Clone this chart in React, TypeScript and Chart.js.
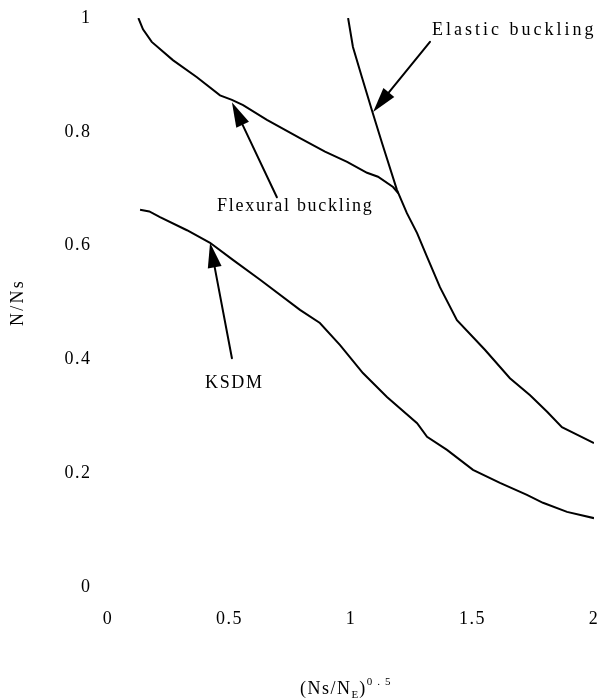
import React, { useEffect, useRef } from "react";
import { Chart, registerables } from "chart.js";

Chart.register(...registerables);

// Flexural buckling curve
const flexuralX = [0.125, 0.144, 0.18, 0.267, 0.366, 0.461, 0.51, 0.556, 0.654, 0.79, 0.893, 0.984, 1.066, 1.111, 1.173, 1.195];
const flexuralY = [1.0, 0.98, 0.958, 0.926, 0.896, 0.864, 0.856, 0.847, 0.821, 0.789, 0.765, 0.747, 0.728, 0.721, 0.703, 0.692];

// Elastic buckling curve
const elasticX = [0.988, 1.008, 1.045, 1.086, 1.128, 1.189, 1.23, 1.272, 1.313, 1.366, 1.436, 1.551, 1.654, 1.737, 1.807, 1.868, 1.934, 2.0];
const elasticY = [1.0, 0.949, 0.896, 0.838, 0.78, 0.698, 0.657, 0.622, 0.58, 0.527, 0.469, 0.417, 0.367, 0.337, 0.308, 0.281, 0.267, 0.253];

// KSDM curve
const ksdmX = [0.132, 0.17, 0.214, 0.325, 0.42, 0.514, 0.626, 0.79, 0.872, 0.955, 1.049, 1.148, 1.272, 1.313, 1.395, 1.502, 1.613, 1.724, 1.79, 1.889, 2.0];
const ksdmY = [0.663, 0.66, 0.65, 0.627, 0.605, 0.575, 0.54, 0.487, 0.464, 0.425, 0.376, 0.334, 0.288, 0.264, 0.241, 0.206, 0.183, 0.162, 0.148, 0.132, 0.121];

// Axis ticks
const xTicks = [0, 0.5, 1, 1.5, 2];
const xTickLabels = ["0", "0.5", "1", "1.5", "2"];
const yTicks = [0, 0.2, 0.4, 0.6, 0.8, 1];
const yTickLabels = ["0", "0.2", "0.4", "0.6", "0.8", "1"];

// Callout labels (data coordinates of the text's left baseline)
const noteTexts = ["Elastic buckling", "Flexural buckling", "KSDM"];
const noteX = [1.333, 0.449, 0.399];
const noteY = [0.97, 0.661, 0.35];
const noteSpacing = [3, 1.7, 1.7];

// Callout arrows: from tail to tip, in data coordinates
const arrowFromX = [1.325, 0.695, 0.51];
const arrowFromY = [0.958, 0.685, 0.402];
const arrowToX = [1.091, 0.51, 0.42];
const arrowToY = [0.835, 0.852, 0.605];

const SERIF = '"Liberation Serif", "Times New Roman", serif';

const toPoints = (xs: number[], ys: number[]) => xs.map((x, i) => ({ x, y: ys[i] }));

const calloutPlugin = {
  id: "callouts",
  beforeDraw(chart: any) {
    (chart.ctx as any).letterSpacing = "1.5px";
  },
  afterDraw(chart: any) {
    const { ctx, chartArea, scales } = chart;
    const xs = scales.x;
    const ys = scales.y;
    ctx.save();
    ctx.fillStyle = "#000";
    ctx.strokeStyle = "#000";
    ctx.lineWidth = 2;
    ctx.lineCap = "round";

    // arrows
    for (let i = 0; i < arrowFromX.length; i++) {
      const x0 = xs.getPixelForValue(arrowFromX[i]);
      const y0 = ys.getPixelForValue(arrowFromY[i]);
      const x1 = xs.getPixelForValue(arrowToX[i]);
      const y1 = ys.getPixelForValue(arrowToY[i]);
      const ang = Math.atan2(y1 - y0, x1 - x0);
      const headLen = 25;
      const headHalf = 7;
      const bx = x1 - headLen * Math.cos(ang);
      const by = y1 - headLen * Math.sin(ang);
      ctx.beginPath();
      ctx.moveTo(x0, y0);
      ctx.lineTo(bx, by);
      ctx.stroke();
      ctx.beginPath();
      ctx.moveTo(x1, y1);
      ctx.lineTo(bx + headHalf * Math.sin(ang), by - headHalf * Math.cos(ang));
      ctx.lineTo(bx - headHalf * Math.sin(ang), by + headHalf * Math.cos(ang));
      ctx.closePath();
      ctx.fill();
    }

    // callout texts
    ctx.font = `18px ${SERIF}`;
    ctx.textAlign = "left";
    ctx.textBaseline = "alphabetic";
    for (let i = 0; i < noteTexts.length; i++) {
      (ctx as any).letterSpacing = `${noteSpacing[i]}px`;
      ctx.fillText(noteTexts[i], xs.getPixelForValue(noteX[i]), ys.getPixelForValue(noteY[i]));
    }

    // y-axis title
    ctx.save();
    (ctx as any).letterSpacing = "2.3px";
    ctx.translate(23, (chartArea.top + chartArea.bottom) / 2);
    ctx.rotate(-Math.PI / 2);
    ctx.textAlign = "center";
    ctx.fillText("N/Ns", 0, 0);
    ctx.restore();

    // x-axis title: (Ns/N_E)^0.5
    let tx = chartArea.left + 192;
    const base = chart.height - 6;
    const parts: [string, number, number, number][] = [
      ["(Ns/N", 18, 0, 1.5],
      ["E", 11, 4, 1],
      [")", 18, 0, 1.5],
      ["0.5", 11, -9, 5],
    ];
    for (const [t, size, dy, sp] of parts) {
      ctx.font = `${size}px ${SERIF}`;
      (ctx as any).letterSpacing = `${sp}px`;
      ctx.fillText(t, tx, base + dy);
      tx += ctx.measureText(t).width;
    }
    ctx.restore();
  },
};

export default function App() {
  const canvasRef = useRef<HTMLCanvasElement | null>(null);

  useEffect(() => {
    document.body.style.margin = "0";
    const canvas = canvasRef.current;
    if (!canvas) return;

    const lineStyle = {
      showLine: true,
      borderColor: "#000",
      backgroundColor: "#000",
      borderWidth: 2,
      pointRadius: 0,
      tension: 0,
      fill: false,
    };

    const chart = new Chart(canvas, {
      type: "scatter",
      data: {
        datasets: [
          { label: "Flexural buckling", data: toPoints(flexuralX, flexuralY), ...lineStyle },
          { label: "Elastic buckling", data: toPoints(elasticX, elasticY), ...lineStyle },
          { label: "KSDM", data: toPoints(ksdmX, ksdmY), ...lineStyle },
        ],
      },
      options: {
        animation: false,
        responsive: false,
        devicePixelRatio: 1,
        layout: { padding: { top: 18, right: 6, left: 0, bottom: 0 } },
        plugins: {
          legend: { display: false },
          tooltip: { enabled: false },
        },
        scales: {
          x: {
            type: "linear",
            min: 0,
            max: 2,
            grid: { display: false, drawTicks: false },
            border: { display: false },
            afterBuildTicks: (scale: any) => {
              scale.ticks = xTicks.map((v) => ({ value: v }));
            },
            afterFit: (scale: any) => {
              scale.height = 113;
              scale.paddingLeft = 0;
              scale.paddingRight = 0;
            },
            ticks: {
              color: "#000",
              padding: 21,
              maxRotation: 0,
              autoSkip: false,
              font: { family: SERIF, size: 18 },
              callback: (_v: any, i: number) => xTickLabels[i],
            },
          },
          y: {
            type: "linear",
            min: 0,
            max: 1,
            grid: { display: false, drawTicks: false },
            border: { display: false },
            afterBuildTicks: (scale: any) => {
              scale.ticks = yTicks.map((v) => ({ value: v }));
            },
            afterFit: (scale: any) => {
              scale.width = 108;
              scale.paddingTop = 0;
              scale.paddingBottom = 0;
            },
            ticks: {
              color: "#000",
              padding: 16.5,
              autoSkip: false,
              font: { family: SERIF, size: 18 },
              callback: (_v: any, i: number) => yTickLabels[i],
            },
          },
        },
      },
      plugins: [calloutPlugin],
    });

    return () => chart.destroy();
  }, []);

  return (
    <div style={{ width: 600, height: 700, background: "#fff" }}>
      <canvas ref={canvasRef} width={600} height={700} />
    </div>
  );
}
